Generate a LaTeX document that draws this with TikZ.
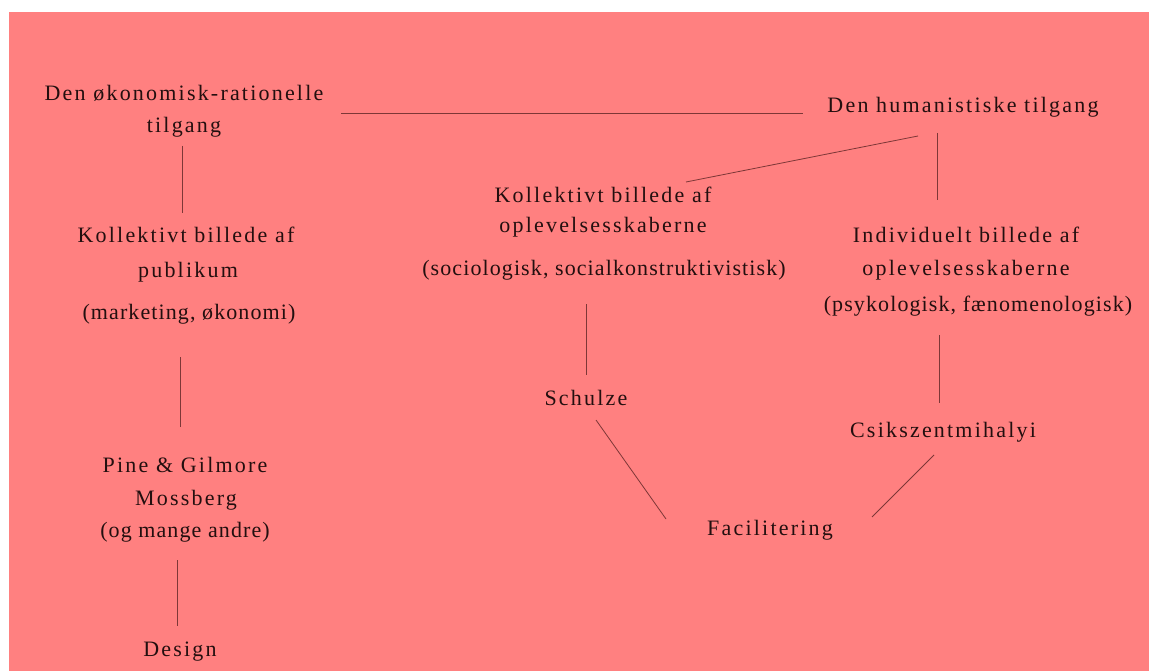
\documentclass[tikz,border=0pt]{standalone}
\usepackage{fontspec}
\setmainfont{Liberation Serif}[LetterSpace=10]
\newfontfamily\parenfont{Liberation Serif}[LetterSpace=5]
\definecolor{bg}{RGB}{255,128,128}
\definecolor{ink}{RGB}{35,15,15}
\definecolor{wirec}{RGB}{125,55,55}
\begin{document}
\begin{tikzpicture}[x=1pt,y=-1pt,
  txt/.style={anchor=base, inner sep=0pt, text=ink, font=\fontsize{22}{26}\selectfont},
  ptxt/.style={txt, font=\parenfont\fontsize{22}{26}\selectfont},
  wire/.style={draw=wirec, line width=0.8pt}]
\useasboundingbox (0,0) rectangle (1149,671);
\fill[white] (0,0) rectangle (1149,671);
\fill[bg] (9,12) rectangle (1149,671);

\node[txt] (eco1) at (184,101) {Den økonomisk-rationelle};
\node[txt] (eco2) at (184,133) {tilgang};
\node[txt] (hum) at (963,113) {Den humanistiske tilgang};
\node[txt] (kp1) at (186,243) {Kollektivt billede af};
\node[txt] (kp2) at (188,278) {publikum};
\node[ptxt] (kp3) at (189,319) {(marketing, økonomi)};
\node[txt] (ko1) at (603,203) {Kollektivt billede af};
\node[txt] (ko2) at (603,233) {oplevelsesskaberne};
\node[ptxt] (ko3) at (604,276) {(sociologisk, socialkonstruktivistisk)};
\node[txt] (io1) at (966,243) {Individuelt billede af};
\node[txt] (io2) at (966,276) {oplevelsesskaberne};
\node[ptxt] (io3) at (978,312) {(psykologisk, fænomenologisk)};
\node[txt] (pg1) at (185,472) {Pine \& Gilmore};
\node[txt] (pg2) at (186,505) {Mossberg};
\node[ptxt] (pg3) at (185,537) {(og mange andre)};
\node[txt] (design) at (180,656) {Design};
\node[txt] (schulze) at (586,405) {Schulze};
\node[txt] (csik) at (943,437) {Csikszentmihalyi};
\node[txt] (fac) at (770,535) {Facilitering};

% connector end points
\coordinate (h1) at (341,113.5);   \coordinate (h2) at (803,113.5);
\coordinate (v1a) at (182,146);    \coordinate (v1b) at (182,213);
\coordinate (v2a) at (180,357);    \coordinate (v2b) at (180,427);
\coordinate (v3a) at (177,560);    \coordinate (v3b) at (177,626);
\coordinate (d1a) at (918,136);    \coordinate (d1b) at (686,182);
\coordinate (v4a) at (937,133);    \coordinate (v4b) at (937,200);
\coordinate (v5a) at (586,304);    \coordinate (v5b) at (586,375);
\coordinate (v6a) at (939,335);    \coordinate (v6b) at (939,403);
\coordinate (d2a) at (596,420);    \coordinate (d2b) at (666,519);
\coordinate (d3a) at (934,455);    \coordinate (d3b) at (872,517);

\draw[wire] (h1) -- (h2);
\draw[wire] (v1a) -- (v1b);
\draw[wire] (v2a) -- (v2b);
\draw[wire] (v3a) -- (v3b);
\draw[wire] (d1a) -- (d1b);
\draw[wire] (v4a) -- (v4b);
\draw[wire] (v5a) -- (v5b);
\draw[wire] (v6a) -- (v6b);
\draw[wire] (d2a) -- (d2b);
\draw[wire] (d3a) -- (d3b);
\end{tikzpicture}
\end{document}
